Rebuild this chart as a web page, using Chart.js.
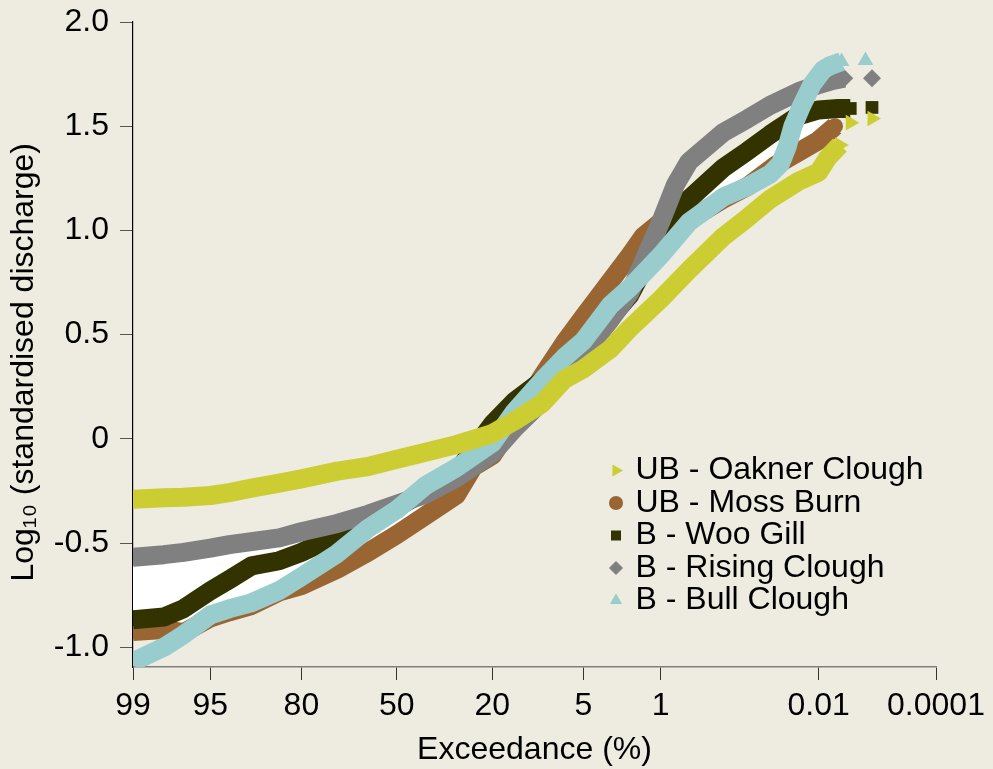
<!DOCTYPE html>
<html>
<head>
<meta charset="utf-8">
<script src="https://cdn.jsdelivr.net/npm/chart.js@4.4.1/dist/chart.umd.min.js"></script>
<style>
  html, body { margin: 0; padding: 0; background: #eeece1; }
  #wrap { width: 993px; height: 769px; }
</style>
</head>
<body>
<div id="wrap"><canvas id="visualization"></canvas></div>
<script>
// Flow duration curves: [exceedance %, log10 standardised discharge]
var seriesNames = ['UB - Oakner Clough', 'UB - Moss Burn', 'B - Woo Gill', 'B - Rising Clough', 'B - Bull Clough'];
var seriesColors = ['#cccc33', '#996633', '#333300', '#808080', '#99cccc'];
var seriesMarkers = ['triangle', 'circle', 'rect', 'rectRot', 'triangle'];

var oaknerClough = [[99, -0.29], [98, -0.283], [97, -0.28], [95, -0.272], [93, -0.258], [90, -0.237], [85, -0.213], [80, -0.192],
    [70, -0.155], [60, -0.133], [50, -0.098], [40, -0.065], [30, -0.028], [20, 0.025], [15, 0.085], [10, 0.17], [7, 0.285],
    [5, 0.335], [3, 0.43], [2, 0.53], [1, 0.67], [0.5, 0.81], [0.2, 0.97], [0.1, 1.06], [0.05, 1.15], [0.02, 1.235],
    [0.01, 1.28], [0.0072, 1.35], [0.0047, 1.41]];
var oaknerTail = [[0.0032, 1.517], [0.0014, 1.537]];

var mossBurn = [[99, -0.925], [98, -0.915], [97, -0.93], [95, -0.86], [93, -0.83], [90, -0.80], [85, -0.735], [80, -0.705],
    [70, -0.625], [60, -0.544], [50, -0.46], [40, -0.368], [30, -0.27], [25, -0.135], [20, -0.08], [15, 0.08], [10, 0.3],
    [7, 0.46], [5, 0.585], [3, 0.755], [2, 0.88], [1.5, 0.97], [1, 1.04], [0.7, 1.05], [0.5, 1.05], [0.2, 1.15], [0.1, 1.21],
    [0.043, 1.31], [0.019, 1.38], [0.0102, 1.43], [0.0056, 1.50]];
var mossTail = [];

var wooGill = [[99, -0.868], [98, -0.855], [97, -0.815], [95, -0.73], [93, -0.675], [90, -0.61], [85, -0.585], [80, -0.545],
    [70, -0.465], [60, -0.40], [50, -0.33], [40, -0.25], [30, -0.16], [20, 0.07], [15, 0.18], [10, 0.28], [7, 0.385],
    [5, 0.45], [3, 0.58], [2, 0.69], [1, 0.97], [0.5, 1.15], [0.2, 1.30], [0.1, 1.38], [0.05, 1.46], [0.02, 1.55],
    [0.01, 1.578], [0.005, 1.585], [0.0032, 1.585]];
var wooTail = [[0.0014, 1.59]];

var risingClough = [[99, -0.569], [98, -0.556], [97, -0.545], [95, -0.525], [93, -0.508], [90, -0.493], [85, -0.475], [80, -0.446],
    [70, -0.406], [60, -0.362], [50, -0.314], [40, -0.266], [30, -0.187], [20, -0.07], [15, 0.05], [10, 0.18], [7, 0.31],
    [5, 0.41], [3, 0.57], [2, 0.70], [1, 1.04], [0.7, 1.22], [0.5, 1.33], [0.2, 1.47], [0.1, 1.535], [0.05, 1.60],
    [0.02, 1.665], [0.01, 1.70], [0.006, 1.72], [0.004, 1.73]];
var risingTail = [[0.0014, 1.73]];

var bullClough = [[99, -1.07], [98, -1.0], [97, -0.94], [95, -0.846], [93, -0.815], [90, -0.787], [85, -0.728], [80, -0.662],
    [70, -0.55], [60, -0.43], [50, -0.34], [40, -0.224], [30, -0.139], [20, -0.02], [15, 0.13], [10, 0.28], [7, 0.39],
    [5, 0.47], [3, 0.64], [2, 0.725], [1, 0.88], [0.5, 1.04], [0.2, 1.16], [0.1, 1.21], [0.05, 1.27], [0.036, 1.32],
    [0.029, 1.40], [0.024, 1.50], [0.0178, 1.60], [0.0126, 1.70], [0.0086, 1.77], [0.0067, 1.79], [0.0044, 1.81]];
var bullTail = [[0.0018, 1.815]];

var exceedanceTicks = [99, 95, 80, 50, 20, 5, 1, 0.01, 0.0001];
var logTicks = [-1, -0.5, 0, 0.5, 1, 1.5, 2];

// inverse normal CDF (Acklam) - gives the probability axis
function probit(p) {
    var a = [-3.969683028665376e+01, 2.209460984245205e+02, -2.759285104469687e+02, 1.383577518672690e+02, -3.066479806614716e+01, 2.506628277459239e+00];
    var b = [-5.447609879822406e+01, 1.615858368580409e+02, -1.556989798598866e+02, 6.680131188771972e+01, -1.328068155288572e+01];
    var c = [-7.784894002430293e-03, -3.223964580411365e-01, -2.400758277161838e+00, -2.549732539343734e+00, 4.374664141464968e+00, 2.938163982698783e+00];
    var d = [7.784695709041462e-03, 3.224671290700398e-01, 2.445134137142996e+00, 3.754408661907416e+00];
    var q, r;
    if (p < 0.02425) {
        q = Math.sqrt(-2 * Math.log(p));
        return (((((c[0]*q+c[1])*q+c[2])*q+c[3])*q+c[4])*q+c[5]) / ((((d[0]*q+d[1])*q+d[2])*q+d[3])*q+1);
    }
    if (p > 1 - 0.02425) {
        q = Math.sqrt(-2 * Math.log(1 - p));
        return -(((((c[0]*q+c[1])*q+c[2])*q+c[3])*q+c[4])*q+c[5]) / ((((d[0]*q+d[1])*q+d[2])*q+d[3])*q+1);
    }
    q = p - 0.5; r = q * q;
    return (((((a[0]*r+a[1])*r+a[2])*r+a[3])*r+a[4])*r+a[5])*q / (((((b[0]*r+b[1])*r+b[2])*r+b[3])*r+b[4])*r+1);
}
function zOf(exc) { return -probit(exc / 100); }
function toPoints(arr) { return arr.map(function(p) { return {x: zOf(p[0]), y: p[1]}; }); }

function makeSeries(i, body, tail, order) {
    var n = body.length;
    return {
        label: seriesNames[i],
        data: toPoints(body.concat(tail)),
        borderColor: seriesColors[i],
        backgroundColor: seriesColors[i],
        borderWidth: 19,
        borderJoinStyle: 'round',
        pointStyle: seriesMarkers[i],
        pointRotation: i === 0 ? 90 : 0,
        pointRadius: i === 1 ? 8 : 9,
        pointBorderWidth: 0,
        fill: false,
        clip: 0,
        order: order,
        segment: {
            borderColor: function(ctx) { return ctx.p1DataIndex >= n ? 'transparent' : undefined; }
        }
    };
}

var datasets = [
    makeSeries(0, oaknerClough, oaknerTail, 1),
    makeSeries(1, mossBurn, mossTail, 5),
    makeSeries(2, wooGill, wooTail, 4),
    makeSeries(3, risingClough, risingTail, 3),
    makeSeries(4, bullClough, bullTail, 2)
];
// white gaps between the curves in the original
datasets[2].fill = {target: 1, above: '#ffffff', below: '#ffffff'};
datasets.push({
    label: 'band',
    data: toPoints(risingClough.slice(0, 9)),
    borderWidth: 0,
    borderColor: 'transparent',
    backgroundColor: 'transparent',
    pointRadius: 0,
    clip: 0,
    order: 6,
    fill: {target: 2, above: '#ffffff', below: '#ffffff'}
});

// put the legend box inside the plot, lower right
var legendPlacement = {
    id: 'legendPlacement',
    afterLayout: function(chart) {
        var lg = chart.legend;
        lg.left = 612; lg.top = 454; lg.right = 993; lg.bottom = 769;
        lg.width = lg.right - lg.left; lg.height = lg.bottom - lg.top;
        lg.draw = function() { this._draw(); };
    }
};

Chart.defaults.font.family = '"Liberation Sans", Arial, sans-serif';
Chart.defaults.font.size = 32;
Chart.defaults.color = '#000';

var ctx = document.getElementById('visualization').getContext('2d');
var fdcChart = new Chart(ctx, {
    type: 'line',
    data: { datasets: datasets },
    plugins: [legendPlacement],
    options: {
        responsive: true,
        maintainAspectRatio: false,
        animation: false,
        events: [],
        layout: { padding: { left: 0, right: 57, top: 22, bottom: 0 } },
        scales: {
            x: {
                type: 'linear',
                min: zOf(99),
                max: zOf(0.0001),
                afterBuildTicks: function(s) { s.ticks = exceedanceTicks.map(function(e) { return {value: zOf(e)}; }); },
                afterFit: function(s) { s.height = 102; s.paddingLeft = 0; s.paddingRight = 0; },
                ticks: {
                    autoSkip: false, maxRotation: 0, padding: 7,
                    callback: function(v, i) { return String(exceedanceTicks[i]); }
                },
                grid: { drawOnChartArea: false, drawTicks: true, tickLength: 13, color: '#333' },
                border: { color: '#7f7f7f', width: 1.5 },
                title: { display: true, text: 'Exceedance (%)', padding: { top: 0, bottom: 0 } }
            },
            y: {
                type: 'linear',
                min: -1.095,
                max: 2,
                afterBuildTicks: function(s) { s.ticks = logTicks.map(function(v) { return {value: v}; }); },
                afterFit: function(s) { s.width = 133; s.paddingTop = 0; s.paddingBottom = 0; },
                ticks: {
                    padding: 11,
                    callback: function(v) { return v === 0 ? '0' : v.toFixed(1); }
                },
                grid: { drawOnChartArea: false, drawTicks: true, tickLength: 13, color: '#555' },
                border: { color: '#000', width: 1.2 },
                title: { display: true, text: 'Log\u2081\u2080 (standardised discharge)    ', padding: { top: 5, bottom: 0 } }
            }
        },
        plugins: {
            filler: { drawTime: 'beforeDatasetsDraw' },
            tooltip: { enabled: false },
            legend: {
                position: 'chartArea',
                align: 'start',
                labels: {
                    usePointStyle: true,
                    boxWidth: 7,
                    boxHeight: 10,
                    padding: 0.5,
                    filter: function(item) { return item.datasetIndex < 5; },
                    sort: function(a, b) { return a.datasetIndex - b.datasetIndex; }
                }
            }
        }
    }
});
</script>
</body>
</html>
